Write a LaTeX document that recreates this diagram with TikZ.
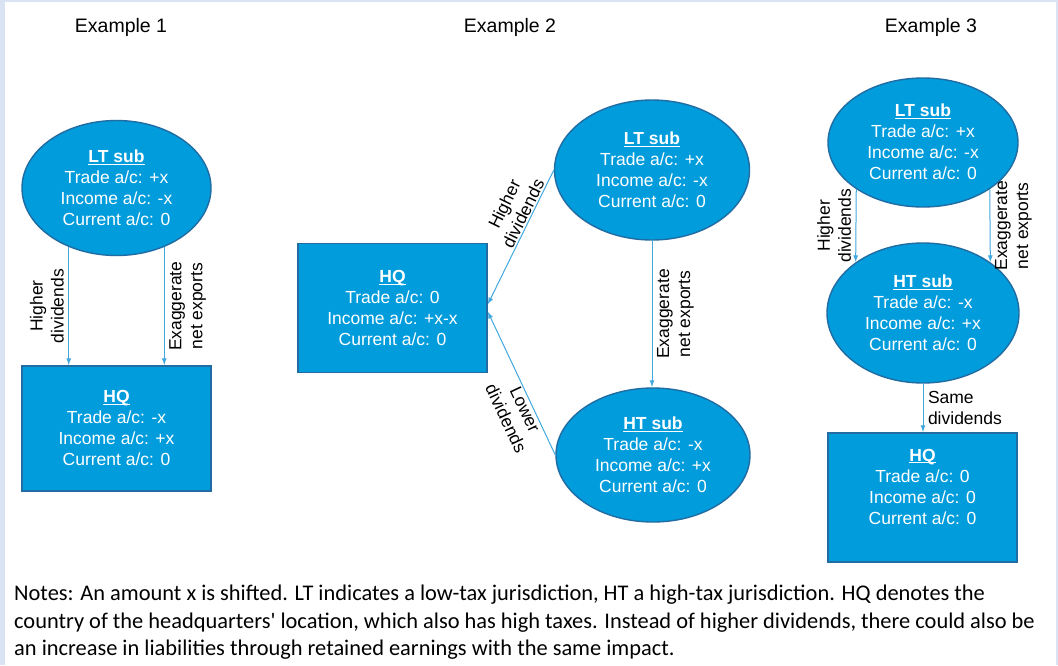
\documentclass[tikz,border=0pt]{standalone}
\usepackage{fontspec}
\setmainfont{Liberation Sans}
\newfontfamily\notesfont{Carlito}
\usetikzlibrary{shapes.geometric}
\usetikzlibrary{arrows.meta}
\definecolor{boxblue}{RGB}{0,156,219}
\definecolor{edgeblue}{RGB}{32,108,163}
\definecolor{linkblue}{RGB}{66,168,224}
\definecolor{pagerim}{RGB}{218,227,243}
\tikzstyle{sub}=[ellipse, fill=boxblue, draw=edgeblue, line width=1.4pt, text=white, align=center, inner sep=0pt]
\tikzstyle{hq}=[rectangle, fill=boxblue, draw=edgeblue, line width=1.4pt, text=white, align=center, inner sep=0pt, minimum width=189pt]
\newcommand{\acct}[4]{\underline{\smash{\textbf{#1}}}\vphantom{Tg}\\Trade a/c: #2\\Income a/c: #3\\Current a/c: #4}

\begin{document}
\begin{tikzpicture}[x=1pt, y=-1pt, font=\fontsize{17.5}{21}\selectfont,
                    link/.style={linkblue, line width=1pt, -{Latex[length=7pt, width=5pt]}},
                    lbl/.style={text=black, align=center, inner sep=1.5pt},
                    uplbl/.style={lbl, midway, rotate=90, inner sep=4.5pt}]
    % page with its rim
    \fill[pagerim] (0,0) rectangle (1058,665);
    \fill[white] (5,2) rectangle (1056,665);
    \foreach \x [count = \n] in {121,510,931}{
      \node[font=\fontsize{19.5}{23}\selectfont] (title\n) at (\x,27) {Example \n};
    }
    % example 1
    \node[sub, minimum width=189pt, minimum height=135pt] (lt1) at (116.5,188) {\acct{LT sub}{+x}{-x}{0}};
    \node[hq, minimum height=125pt] (hq1) at (116.5,428.5) {\acct{HQ}{-x}{+x}{0}};
    \draw[link] (lt1.-129) -- node[uplbl, above] {Higher\\dividends} (lt1.-129 |- hq1.north);
    \draw[link] (lt1.-51) -- node[uplbl, below] {Exaggerate\\net exports} (lt1.-51 |- hq1.north);
    % example 2
    \node[hq, minimum height=129pt] (hq2) at (392.5,308) {\acct{HQ}{0}{+x-x}{0}};
    \node[sub, minimum width=195pt, minimum height=140pt] (lt2) at (652,170) {\acct{LT sub}{+x}{-x}{0}};
    \node[sub, minimum width=194pt, minimum height=134pt] (ht2) at (653,455) {\acct{HT sub}{-x}{+x}{0}};
    \draw[link] (lt2.west) -- node[lbl, sloped, pos=0.35, above] {Higher\\dividends} ([yshift=3.5pt]hq2.east);
    \draw[link] (ht2.west) -- node[lbl, sloped, pos=0.34, below] {Lower\\dividends} ([yshift=-3.5pt]hq2.east);
    \draw[link] (lt2.south) -- node[uplbl, below] {Exaggerate\\net exports} (lt2.south |- ht2.north);
    % example 3
    \node[sub, minimum width=190pt, minimum height=129pt] (lt3) at (923,142.5) {\acct{LT sub}{+x}{-x}{0}};
    \node[sub, minimum width=192pt, minimum height=140pt] (ht3) at (923,313) {\acct{HT sub}{-x}{+x}{0}};
    \node[hq, minimum height=129pt, text depth=22pt] (hq3) at (922.5,497.5) {\acct{HQ}{0}{0}{0}};
    \draw[link] (lt3.-145) -- node[uplbl, above] {Higher\\dividends} (ht3.143);
    \draw[link] (lt3.-35) -- node[uplbl, below] {Exaggerate\\net exports} (ht3.37);
    \draw[link] (ht3.south) -- node[lbl, midway, right, align=left, xshift=3pt] {Same\\dividends} (ht3.south |- hq3.north);
    % notes
    \node[anchor=north west, align=left, inner sep=0pt, font=\notesfont\fontsize{22.4}{27.5}\selectfont] (notes) at (14,585)
      {Notes: An amount x is shifted. LT indicates a low-tax jurisdiction, HT a high-tax jurisdiction. HQ denotes the\\
       country of the headquarters' location, which also has high taxes. Instead of higher dividends, there could also be\\
       an increase in liabilities through retained earnings with the same impact.};
\end{tikzpicture}
\end{document}
